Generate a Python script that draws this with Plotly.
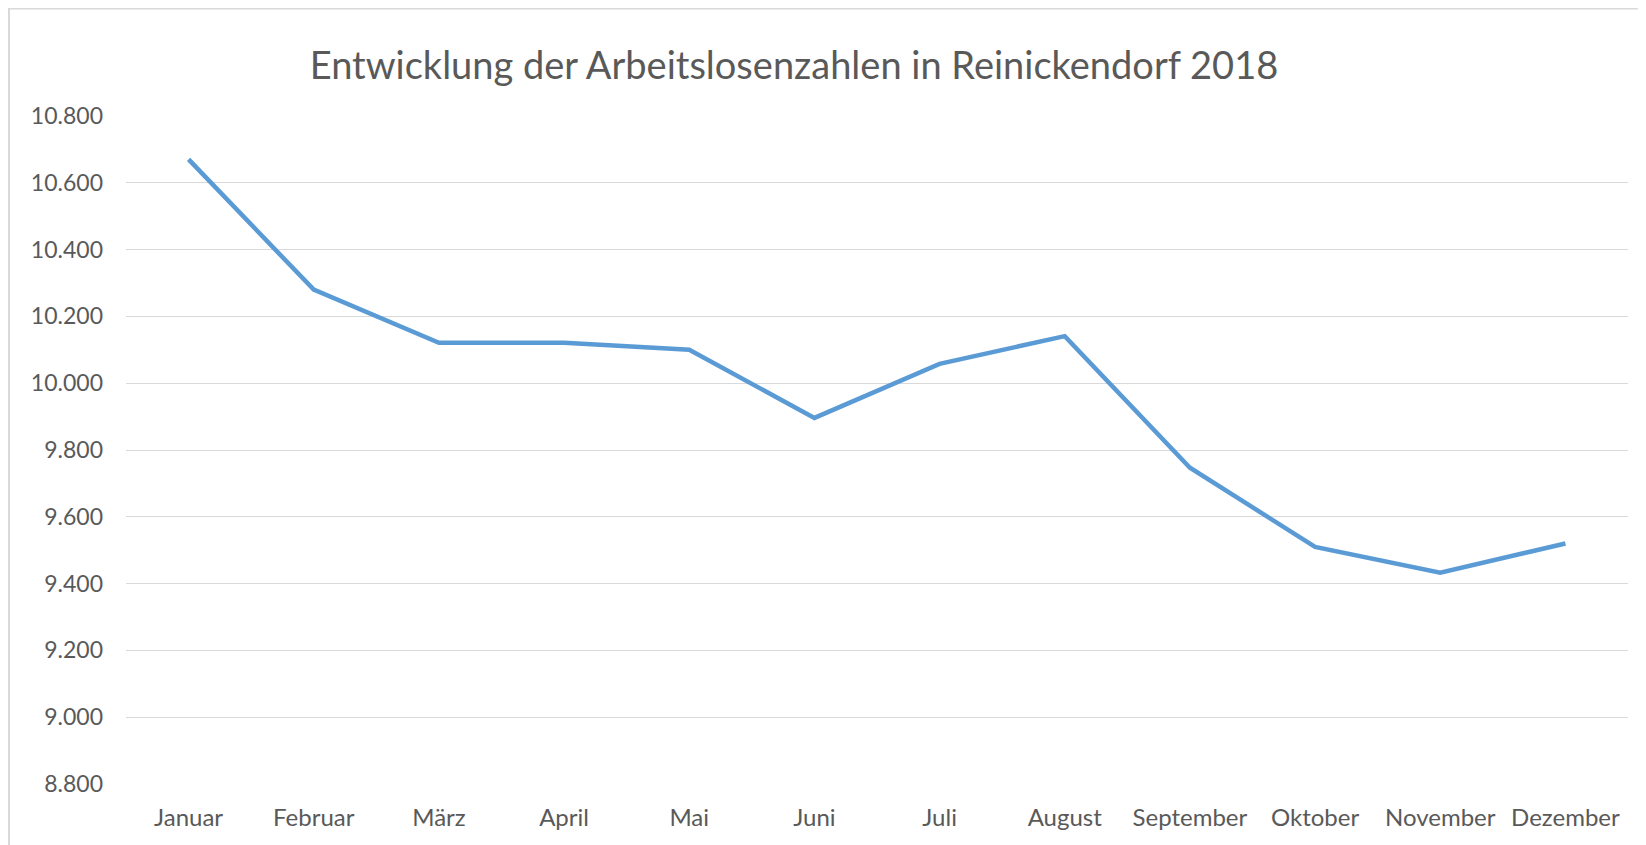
import plotly.graph_objects as go

months = ["Januar", "Februar", "März", "April", "Mai", "Juni", "Juli",
          "August", "September", "Oktober", "November", "Dezember"]
arbeitslose = [10670, 10280, 10121, 10121, 10100, 9896, 10058, 10141,
               9747, 9510, 9433, 9520]
y_ticks = [8800, 9000, 9200, 9400, 9600, 9800, 10000, 10200, 10400, 10600, 10800]
y_ticktext = ["8.800", "9.000", "9.200", "9.400", "9.600", "9.800",
              "10.000", "10.200", "10.400", "10.600", "10.800"]
title_text = "Entwicklung der Arbeitslosenzahlen in Reinickendorf 2018"

# the page body adds an 8px offset; size the figure so the plot lands in place
OFF = 8
W, H = 1646 - OFF, 845 - OFF
L, R, T, B = 126 - OFF, 18, 116 - OFF, 61
pw, ph = W - L - R, H - T - B

fig = go.Figure()
fig.add_trace(go.Scatter(
    x=months, y=arbeitslose, mode="lines",
    line=dict(color="#5b9bd5", width=4.5),
    hoverinfo="x+y", showlegend=False,
))

# chart-area frame (only its left and top edges fall inside the picture)
fx0 = (1 - L) / pw
fx1 = (W + 20 - L) / pw
fy_top = 1 + (T - 0.5) / ph
fy_bot = -(B + 20) / ph
frame_path = f"M {fx0} {fy_bot} L {fx0} {fy_top} L {fx1} {fy_top}"

font_family = "Lato, 'Open Sans', sans-serif"
fig.update_layout(
    width=W, height=H,
    margin=dict(l=L, r=R, t=T, b=B, pad=0, autoexpand=False),
    paper_bgcolor="white", plot_bgcolor="white",
    title=dict(text=title_text, x=(794 - OFF - L) / pw, xref="paper", xanchor="center",
               y=1 - 58 / H, yref="container", yanchor="middle",
               font=dict(family=font_family, size=38, color="#595959")),
    font=dict(family=font_family, size=23, color="#595959"),
    xaxis=dict(showgrid=False, showline=False, zeroline=False, ticks="",
               range=[-0.5, len(months) - 0.5], automargin=False,
               tickfont=dict(size=24, color="#595959"), ticklabelstandoff=17),
    yaxis=dict(range=[8800, 10800], tickvals=y_ticks, ticktext=y_ticktext,
               showgrid=True, gridcolor="#d9d9d9", gridwidth=1.3,
               zeroline=False, showline=False, ticks="", automargin=False,
               tickfont=dict(size=23, color="#595959"), ticklabelstandoff=22),
    shapes=[dict(type="path", xref="paper", yref="paper", path=frame_path,
                 line=dict(color="#d9d9d9", width=2), layer="below")],
)

fig.write_html("out.html")
